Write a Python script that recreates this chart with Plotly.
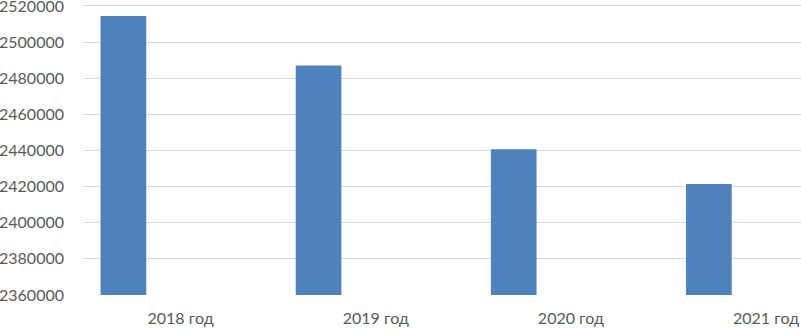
import plotly.graph_objects as go

categories = ["2018 год", "2019 год", "2020 год", "2021 год"]
values = [2514500, 2487000, 2440700, 2421500]
y_ticks = [2360000, 2380000, 2400000, 2420000, 2440000, 2460000, 2480000, 2500000, 2520000]

fig = go.Figure()
fig.add_trace(go.Bar(
    x=categories, y=values,
    marker=dict(color="#4f81bd", line=dict(width=0)),
    width=0.234, offset=-0.41,
))

fig.update_layout(
    width=801, height=329,
    margin=dict(l=83, r=0, t=2, b=34),
    paper_bgcolor="white", plot_bgcolor="white",
    showlegend=False,
    font=dict(family="Lato, sans-serif", size=16, color="#595959"),
)
fig.update_xaxes(
    type="category",
    range=[-0.5, 3.179],
    showgrid=False, showline=False, zeroline=False,
    ticks="", ticklabelstandoff=12, automargin=False,
    ticklabeloverflow="allow",
)
fig.update_yaxes(
    range=[2360000, 2522200],
    tickvals=y_ticks, ticktext=[str(v) for v in y_ticks],
    showgrid=True, gridcolor="#d9d9d9", gridwidth=1,
    zeroline=False, showline=False,
    ticks="", ticklabelstandoff=18, automargin=False,
    ticklabeloverflow="allow",
)

fig.write_html(
    "out.html",
    config={"displayModeBar": False},
    post_script="document.body.style.margin='0';document.body.style.overflow='hidden';",
)
